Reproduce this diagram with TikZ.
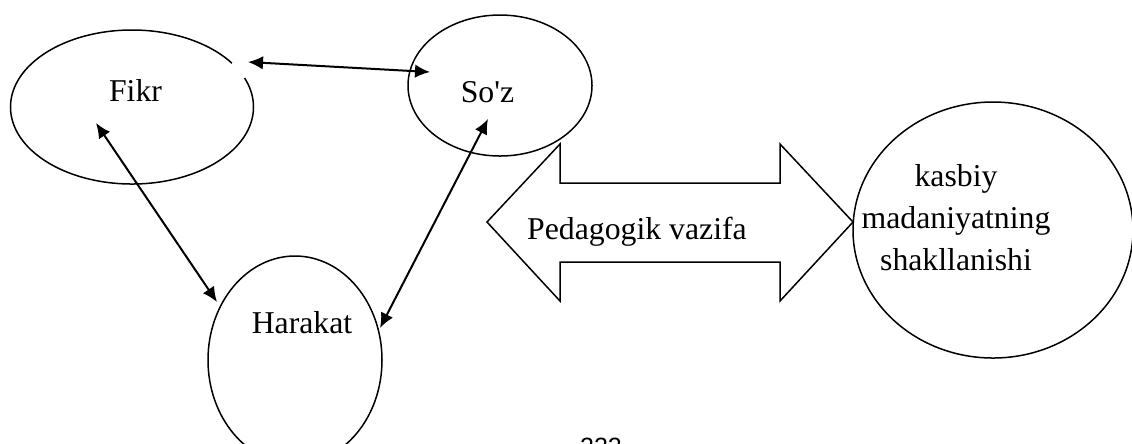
\documentclass[tikz,border=0pt]{standalone}
\usepackage{fontspec}
\setmainfont{Liberation Serif}
\newfontfamily\pagenumfont{Liberation Sans}
\usepackage{tikz}
\usetikzlibrary{shapes.geometric}
\usetikzlibrary{arrows.meta}

\tikzset{
	oval/.style={draw, ellipse, line width=0.6pt, inner sep=0pt},
	word/.style={inner sep=0pt, anchor=base, font=\fontsize{12.7}{16.8}\selectfont},
	link/.style={{Latex[length=6pt,width=5.4pt]}-{Latex[length=6pt,width=5.4pt]}, line width=0.8pt},
}

\begin{document}
\begin{tikzpicture}[x=0.4pt, y=-0.4pt]
		\useasboundingbox (0,0) rectangle (1132,443);
		% Ovals:
		\node[oval, minimum width=97.2pt, minimum height=61.6pt] (fikr) at (132,107) {};
		\node[oval, minimum width=73.6pt, minimum height=56.4pt] (soz) at (500,85.5) {};
		\node[oval, minimum width=69.6pt, minimum height=83.2pt] (harakat) at (295,360) {};
		\node[oval, minimum width=112pt, minimum height=102.4pt] (kasbiy) at (993,230) {};
		\fill[white] (240,69) circle (10);
		% Texts:
		\node[word] (fikrtxt) at (135.5,101) {Fikr};
		\node[word] (soztxt) at (487.5,102) {So\textquotesingle z};
		\node[word] (harakattxt) at (302,333) {Harakat};
		\node[word, anchor=north, align=center] (kasbiytxt) at (956,164) {kasbiy\\madaniyatning\\shakllanishi};
		\node[word] (vazifatxt) at (637,239) {Pedagogik vazifa};
		\node[inner sep=0pt, anchor=base, font=\pagenumfont\fontsize{10}{12}\selectfont] (page) at (601,455) {222};
		% Arrow ends:
		\coordinate (fs) at (248,62);
		\coordinate (sf) at (430,72);
		\coordinate (fh) at (96,123);
		\coordinate (hf) at (217,302);
		\coordinate (sh) at (488,119);
		\coordinate (hs) at (380,328);
		\draw[link] (fs) -- (sf);
		\draw[link] (fh) -- (hf);
		\draw[link] (sh) -- (hs);
		% Double arrow:
		\draw[line width=0.6pt] (487,222) -- (560,144) -- (560,183) -- (780,183) -- (780,144) -- (853,222)
			-- (780,301) -- (780,262) -- (560,262) -- (560,301) -- cycle;
\end{tikzpicture}
\end{document}
